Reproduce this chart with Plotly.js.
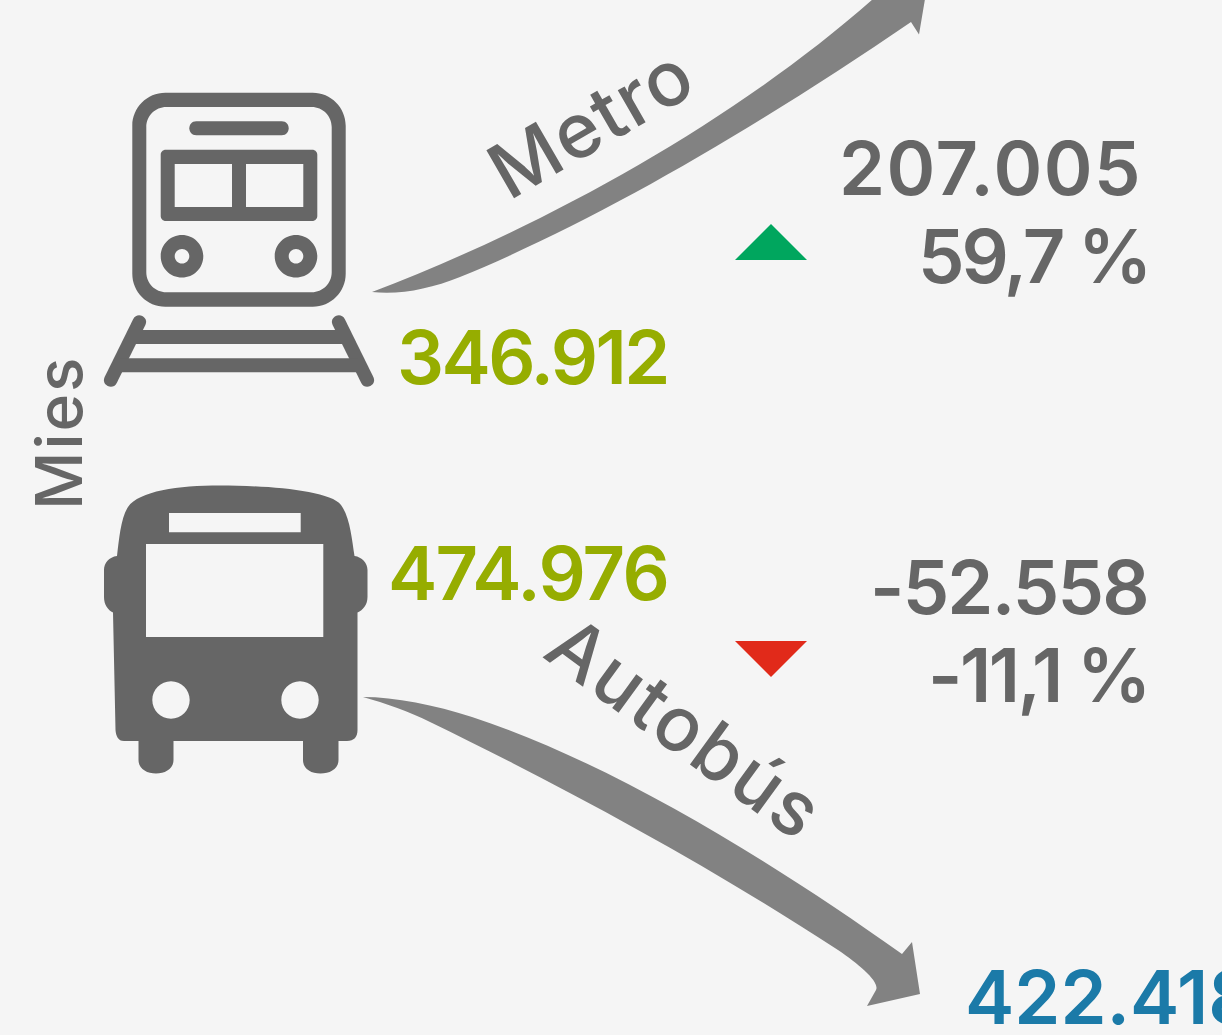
<!DOCTYPE html>
<html><head><meta charset="utf-8">
<script src="https://cdn.plot.ly/plotly-3.0.1.min.js"></script>
<style>html,body{margin:0;padding:0;background:#f5f5f5;overflow:hidden}#c{width:1222px;height:1035px}</style>
</head><body><div id="c"></div>
<script>
// Values (thousands)
const modes = ["Metro", "Autobús"];
const startValues = [346912, 474976];
const changeValues = [207005, -52558];
const changePercents = [59.7, -11.1];
const endLabel = 422418;
const unitLabel = "Mies";

const GREY = "#666666", ARROW = "#828282", OLIVE = "#96AD00", BLUE = "#1B7AA8",
      GREEN = "#00A65E", RED = "#E12A1A", BG = "#F5F5F5", FONT = "Inter, 'Open Sans', sans-serif";

const fmt = v => (v < 0 ? "-" : "") + String(Math.abs(v)).replace(/\B(?=(\d{3})+$)/g, ".");
const pct = v => (v < 0 ? "-" : "") + String(Math.abs(v)).replace(".", ",") + " %";

const K = 0.5523;
function rr(x0, y0, x1, y1, r) {
  const c = r * (1 - K);
  return `M${x0 + r},${y0}L${x1 - r},${y0}C${x1 - c},${y0} ${x1},${y0 + c} ${x1},${y0 + r}` +
    `L${x1},${y1 - r}C${x1},${y1 - c} ${x1 - c},${y1} ${x1 - r},${y1}` +
    `L${x0 + r},${y1}C${x0 + c},${y1} ${x0},${y1 - c} ${x0},${y1 - r}` +
    `L${x0},${y0 + r}C${x0},${y0 + c} ${x0 + c},${y0} ${x0 + r},${y0}Z`;
}
const circ = (cx, cy, r) => rr(cx - r, cy - r, cx + r, cy + r, r);
function capsule(x1, y1, x2, y2, w) {
  const dx = x2 - x1, dy = y2 - y1, l = Math.hypot(dx, dy), r = w / 2;
  const nx = -dy / l * r, ny = dx / l * r, ux = dx / l * r * 1.33, uy = dy / l * r * 1.33;
  return `M${x1 + nx},${y1 + ny}L${x2 + nx},${y2 + ny}C${x2 + nx + ux},${y2 + ny + uy} ${x2 - nx + ux},${y2 - ny + uy} ${x2 - nx},${y2 - ny}` +
    `L${x1 - nx},${y1 - ny}C${x1 - nx - ux},${y1 - ny - uy} ${x1 + nx - ux},${y1 + ny - uy} ${x1 + nx},${y1 + ny}Z`;
}
const shape = (path, fill) => ({type: "path", xref: "x", yref: "y", path, fillcolor: fill, line: {width: 0}, layer: "above"});

const shapes = [
  // train
  shape(rr(132.3, 92.7, 345.7, 306.7, 33) + rr(146.3, 107, 331.7, 292.3, 20), GREY),
  shape(capsule(196.3, 128.3, 281.7, 128.3, 14), GREY),
  shape(rr(160.7, 149.7, 317.3, 221, 5) + "M174.7,164L232,164L232,207L174.7,207Z M246,164L303.3,164L303.3,207L246,207Z", GREY),
  shape(circ(182, 256.3, 21.3) + circ(182, 256.3, 7.3), GREY),
  shape(circ(296, 256.3, 21.3) + circ(296, 256.3, 7.3), GREY),
  shape(capsule(139.3, 322, 110.7, 380, 13.5), GREY),
  shape(capsule(338.7, 322, 367.3, 380, 13.5), GREY),
  shape("M134,330L344,330L344,344L134,344Z", GREY),
  shape("M120,358.3L358,358.3L358,372.3L120,372.3Z", GREY),
  // bus
  shape("M220,485.5C265,485.5 330,490 341,505C350,517 352,540 354.5,556C362,557 367.5,563 367.5,570L367.5,597C367.5,605 363,610 357.5,612.5" +
    "L357.5,730C357.5,737 354,741 347,741L338.5,741L338.5,760C338.5,769 330,773.5 320.5,773.5C311,773.5 303,769 303,760L303,741" +
    "L173.5,741L173.5,760C173.5,769 165,773.5 156,773.5C147,773.5 138.5,769 138.5,760L138.5,741L124,741C118,741 116,736 115.5,730" +
    "L113,612.5C108,610 104,605 104,597L104,570C104,563 109,557 117,556C119,540 121,517 128,507C139,491 178,485.5 220,485.5Z" +
    "M146,544L323.3,544L323.3,637L146,637Z M169,513L300.7,513L300.7,532.3L169,532.3Z" +
    circ(171, 700, 18.7) + circ(300, 700, 18.7), GREY),
  // arrows
  shape("M372,292C540,228 730,125 873,-1L925,-1L919,34.5L911,22C760,125 600,220 460,277C430,289 400,295 372,292Z", ARROW),
  shape("M363,697C395,697 435,705 472,717C610,762 770,860 902,954L912,942L920,994L867,1006L876,990C880,982 860,965 838,950C710,866 560,785 430,722C410,712 385,703 363,697Z", ARROW),
  // change markers
  shape("M735,260L771,224L807,260Z", GREEN),
  shape("M735,641L807,641L771,677Z", RED)
];

const note = (text, x, y, color, size, spacing, xanchor, textangle, weight) => ({
  text: `<span style="letter-spacing:${spacing}px">${text}</span>`, x, y, xref: "x", yref: "y", showarrow: false,
  xanchor: xanchor || "right", yanchor: "middle",
  textangle: textangle || 0, font: {family: FONT, size, color, weight: weight || 600}
});

const annotations = [
  note(fmt(startValues[0]), 670, 357, OLIVE, 74, -2.6),
  note(fmt(startValues[1]), 670, 573, OLIVE, 74, -1.7),
  note(fmt(changeValues[0]), 1144, 168, GREY, 74, 1.5),
  note(pct(changePercents[0]), 1151, 256, GREY, 74, -3),
  note(fmt(changeValues[1]), 1150, 587, GREY, 74, -1.8),
  note(pct(changePercents[1]), 1151, 675, GREY, 74, -2.5),
  note(fmt(endLabel), 963, 997, BLUE, 74, 0, "left"),
  note(unitLabel, 58, 433, GREY, 64, 2, "center", -90, 500),
  note(modes[0], 590, 122, GREY, 76, 1.5, "center", -30, 500),
  note(modes[1], 686, 727, GREY, 76, 2, "center", 36, 500)
];

Plotly.newPlot("c", [{x: [], y: [], type: "scatter", mode: "markers", hoverinfo: "skip"}], {
  width: 1222, height: 1035, margin: {l: 0, r: 0, t: 0, b: 0},
  paper_bgcolor: BG, plot_bgcolor: BG, showlegend: false,
  xaxis: {range: [0, 1222], visible: false, fixedrange: true},
  yaxis: {range: [1035, 0], visible: false, fixedrange: true},
  shapes, annotations
}, {displayModeBar: false, staticPlot: true});
</script></body></html>
